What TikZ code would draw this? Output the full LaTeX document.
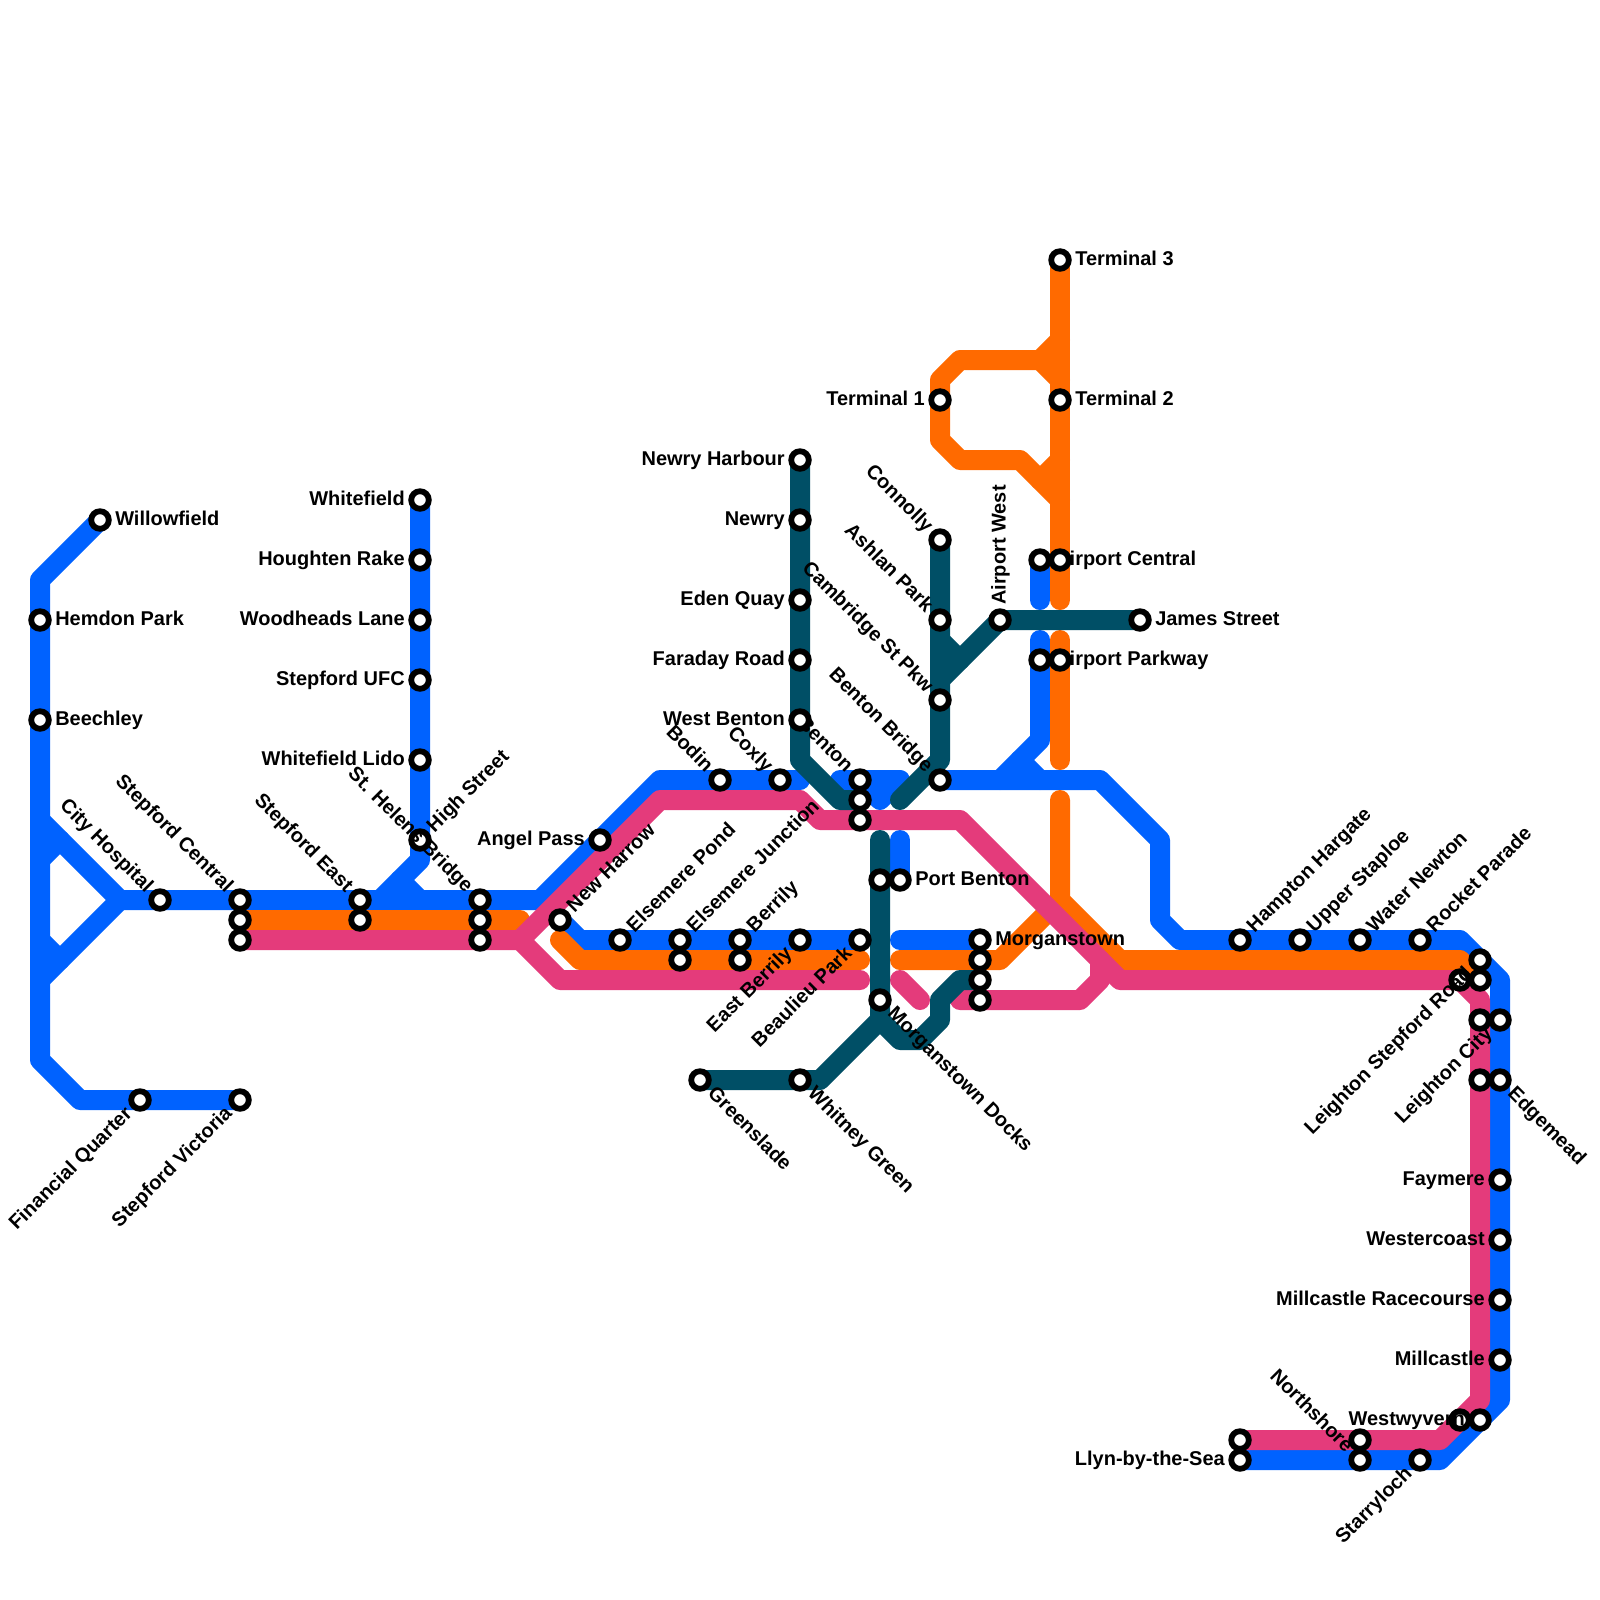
\documentclass[tikz,border=0pt]{standalone}
\usepackage{fontspec}
\setmainfont{Liberation Sans}
\definecolor{mapBlue}{HTML}{0062FF}
\definecolor{mapOrange}{HTML}{FF6A00}
\definecolor{mapPink}{HTML}{E43B7B}
\definecolor{mapTeal}{HTML}{004F66}
\def\lblGap{0.375cm}
\def\lblDrop{-0.045cm}
\tikzset{
  mapLine/.style={line width=0.5cm, line cap=round, line join=round},
  lineBlue/.style={mapLine, mapBlue},
  lineOrange/.style={mapLine, mapOrange},
  linePink/.style={mapLine, mapPink},
  lineTeal/.style={mapLine, mapTeal},
  stop/.style={circle, draw=black, fill=white, line width=0.145cm, minimum size=0.44cm, inner sep=0pt},
  lbl/.style={inner sep=0pt, font=\fontsize{14.2}{17}\selectfont\bfseries},
  lblE/.style={anchor=mid west, xshift=\lblGap, yshift=\lblDrop},
  lblW/.style={anchor=mid east, xshift=-\lblGap, yshift=\lblDrop},
  lblN/.style={rotate=90, anchor=mid west, xshift=\lblGap, yshift=\lblDrop},
  lblNE/.style={rotate=45, anchor=mid west, xshift=\lblGap, yshift=\lblDrop},
  lblSW/.style={rotate=45, anchor=mid east, xshift=-\lblGap, yshift=\lblDrop},
  lblNW/.style={rotate=-45, anchor=mid east, xshift=-\lblGap, yshift=\lblDrop},
  lblSE/.style={rotate=-45, anchor=mid west, xshift=\lblGap, yshift=\lblDrop}
}
\def\stopsBefore{leightonRoadB/73/49, westwyvernB/73/71}
\def\stopsAfter{airportCentralB/53/28, airportParkwayB/53/33, stepfordCentralB/12/46, stepfordCentralC/12/47,
  stepfordEastB/18/46, stHelensB/24/46, stHelensC/24/47, elsemereJunctionB/34/48, berrilyB/37/48,
  bentonB/43/40, bentonC/43/41, portBentonB/44/44, morganstownB/49/48, morganstownC/49/49, morganstownD/49/50,
  leightonRoadC/74/49, leightonCityB/74/51, edgemeadB/74/54, northshoreB/68/72, llynB/62/72}
\def\stopsNamed{
  willowfield/5/26/lblE/Willowfield, hemdonPark/2/31/lblE/Hemdon Park, beechley/2/36/lblE/Beechley,
  cityHospital/8/45/lblNW/City Hospital, stepfordCentral/12/45/lblNW/Stepford Central,
  stepfordEast/18/45/lblNW/Stepford East, highStreet/21/42/lblNE/High Street,
  stHelens/24/45/lblNW/St. Helens Bridge, whitefield/21/25/lblW/Whitefield,
  houghtenRake/21/28/lblW/Houghten Rake, woodheadsLane/21/31/lblW/Woodheads Lane,
  stepfordUfc/21/34/lblW/Stepford UFC, whitefieldLido/21/38/lblW/Whitefield Lido,
  financialQuarter/7/55/lblSW/Financial Quarter, stepfordVictoria/12/55/lblSW/Stepford Victoria,
  angelPass/30/42/lblW/Angel Pass, newHarrow/28/46/lblNE/New Harrow, elsemerePond/31/47/lblNE/Elsemere Pond,
  elsemereJunction/34/47/lblNE/Elsemere Junction, berrily/37/47/lblNE/Berrily,
  eastBerrily/40/47/lblSW/East Berrily, beaulieuPark/43/47/lblSW/Beaulieu Park,
  bodin/36/39/lblNW/Bodin, coxly/39/39/lblNW/Coxly, benton/43/39/lblNW/Benton,
  newryHarbour/40/23/lblW/Newry Harbour, newry/40/26/lblW/Newry, edenQuay/40/30/lblW/Eden Quay,
  faradayRoad/40/33/lblW/Faraday Road, westBenton/40/36/lblW/West Benton,
  portBenton/45/44/lblE/Port Benton, morganstownDocks/44/50/lblSE/Morganstown Docks,
  whitneyGreen/40/54/lblSE/Whitney Green, greenslade/35/54/lblSE/Greenslade,
  morganstown/49/47/lblE/Morganstown, bentonBridge/47/39/lblNW/Benton Bridge,
  cambridgePkwy/47/35/lblNW/Cambridge St Pkw, ashlanPark/47/31/lblNW/Ashlan Park,
  connolly/47/27/lblNW/Connolly, airportWest/50/31/lblN/Airport West, jamesStreet/57/31/lblE/James Street,
  airportCentral/52/28/lblE/Airport Central, airportParkway/52/33/lblE/Airport Parkway,
  terminalThree/53/13/lblE/Terminal 3, terminalTwo/53/20/lblE/Terminal 2, terminalOne/47/20/lblW/Terminal 1,
  hamptonHargate/62/47/lblNE/Hampton Hargate, upperStaploe/65/47/lblNE/Upper Staploe,
  waterNewton/68/47/lblNE/Water Newton, rocketParade/71/47/lblNE/Rocket Parade,
  leightonRoad/74/48/lblSW/Leighton Stepford Road, leightonCity/75/51/lblSW/Leighton City,
  edgemead/75/54/lblSE/Edgemead, faymere/75/59/lblW/Faymere, westercoast/75/62/lblW/Westercoast,
  millcastleRacecourse/75/65/lblW/Millcastle Racecourse, millcastle/75/68/lblW/Millcastle,
  westwyvern/74/71/lblW/Westwyvern, northshore/68/73/lblNW/Northshore,
  llyn/62/73/lblW/Llyn-by-the-Sea, starryloch/71/73/lblSW/Starryloch}
\begin{document}
\begin{tikzpicture}[x=0.5cm, y=-0.5cm]
\useasboundingbox (0,0) rectangle (80,80);
\fill[white] (0,0) rectangle (80,80);

\foreach \id/\sx/\sy in \stopsBefore {\coordinate (\id) at (\sx,\sy);}
\foreach \id/\sx/\sy in \stopsAfter {\coordinate (\id) at (\sx,\sy);}
\foreach \id/\sx/\sy/\dir/\txt in \stopsNamed {\coordinate (\id) at (\sx,\sy);}

\draw[lineBlue] (willowfield) -- (2,29) -- (2,53) -- (4,55) -- (stepfordVictoria);
\draw[lineBlue] (2,41) -- (6,45) -- (27,45) -- (33,39) -- (40,39);
\draw[lineBlue] (2,43) -- (3,42);
\draw[lineBlue] (2,47) -- (3,48);
\draw[lineBlue] (2,49) -- (6,45);
\draw[lineBlue] (whitefield) -- (21,43) -- (19,45);
\draw[lineBlue] (20,44) -- (21,45);
\draw[lineBlue] (newHarrow) -- (29,47) -- (beaulieuPark);
\draw[lineBlue] (42,39) -- (45,39) -- (44,40) -- (43,39);
\draw[lineBlue] (45,42) -- (portBenton);
\draw[lineBlue] (45,47) -- (morganstown);
\draw[lineBlue] (airportCentral) -- (52,30);
\draw[lineBlue] (52,32) -- (52,37) -- (50,39);
\draw[lineBlue] (51,38) -- (52,39);
\draw[lineBlue] (bentonBridge) -- (55,39) -- (58,42) -- (58,46) -- (59,47) -- (73,47) -- (75,49) -- (75,70) -- (72,73) -- (llyn);

\draw[lineOrange] (stepfordCentralB) -- (26,46);
\draw[lineOrange] (28,47) -- (29,48) -- (43,48);
\draw[lineOrange] (45,48) -- (50,48) -- (53,45);
\draw[lineOrange] (53,40) -- (53,45) -- (56,48) -- (73,48) -- (leightonRoadC);
\draw[lineOrange] (terminalThree) -- (53,30);
\draw[lineOrange] (53,32) -- (53,38);
\draw[lineOrange] (53,17) -- (52,18) -- (48,18) -- (47,19) -- (47,22) -- (48,23) -- (51,23) -- (53,25);
\draw[lineOrange] (52,18) -- (53,19);
\draw[lineOrange] (52,24) -- (53,23);

\draw[linePink] (stepfordCentralC) -- (26,47) -- (33,40) -- (40,40) -- (41,41) -- (48,41) -- (55,48) -- (56,49) -- (73,49) -- (74,50) -- (74,70) -- (72,72) -- (llynB);
\draw[linePink] (26,47) -- (28,49) -- (43,49);
\draw[linePink] (45,49) -- (46,50);
\draw[linePink] (48,50) -- (54,50) -- (55,49) -- (55,48);

\draw[lineTeal] (newryHarbour) -- (40,38) -- (42,40) -- (bentonB);
\draw[lineTeal] (45,40) -- (47,38) -- (connolly);
\draw[lineTeal] (47,34) -- (airportWest) -- (jamesStreet);
\draw[lineTeal] (47,32) -- (48,33);
\draw[lineTeal] (44,42) -- (44,51) -- (41,54) -- (greenslade);
\draw[lineTeal] (44,51) -- (45,52) -- (46,52) -- (47,51) -- (47,50) -- (48,49) -- (morganstownC);

\foreach \id/\sx/\sy in \stopsBefore {\node[stop] (\id Stop) at (\id) {};}
\foreach \id/\sx/\sy/\dir/\txt in \stopsNamed {
  \node[stop] (\id Stop) at (\id) {};
  \node[lbl, \dir] (\id Label) at (\id) {\txt};
}
\foreach \id/\sx/\sy in \stopsAfter {\node[stop] (\id Stop) at (\id) {};}
\end{tikzpicture}
\end{document}
